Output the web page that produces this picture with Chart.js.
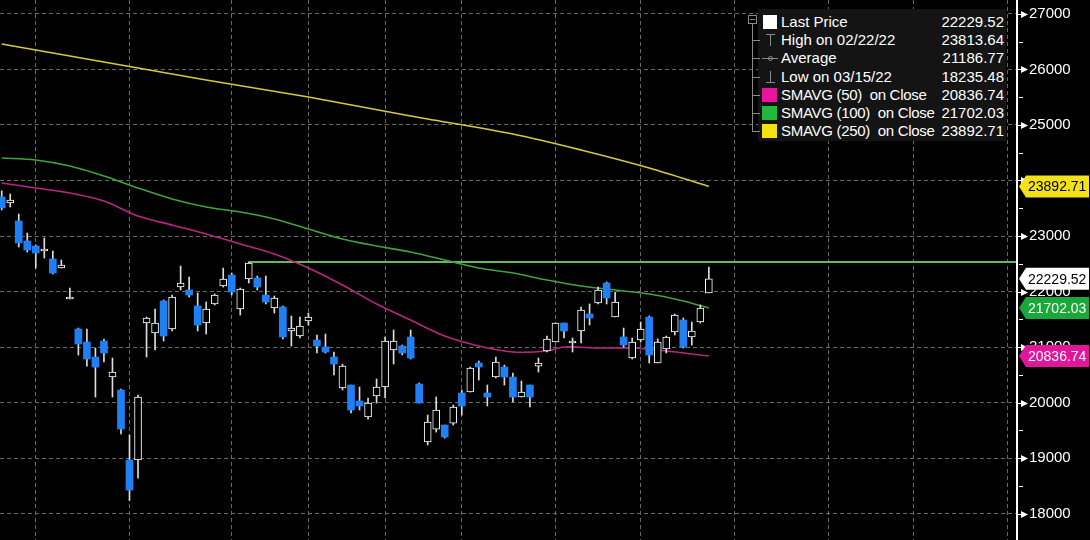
<!DOCTYPE html>
<html>
<head>
<meta charset="utf-8">
<title>HSI candles</title>
<script src="https://cdn.jsdelivr.net/npm/chart.js@4.4.0/dist/chart.umd.min.js"></script>
<style>
  html, body { margin: 0; padding: 0; background: #000; }
  #wrap { position: relative; width: 1090px; height: 540px; overflow: hidden; }
  #legend { position: absolute; left: 758px; top: 9px; width: 248px; height: 132px; background: #141414;
            font: 15px "Liberation Sans", Arial, sans-serif; color: #fff; }
  .row { position: absolute; left: 23px; right: 2px; height: 18px; line-height: 18px; white-space: pre; }
  .row.sm { letter-spacing: -0.3px; }
  .row .v { position: absolute; right: 0; top: 0; letter-spacing: 0; }
  #icons { position: absolute; left: 0; top: 0; pointer-events: none; }
</style>
</head>
<body>
<div id="wrap">
  <canvas id="chart" width="1090" height="540"></canvas>
  <div id="legend">
    <div class="row" style="top:4px">Last Price<span class="v">22229.52</span></div>
    <div class="row" style="top:22px">High on 02/22/22<span class="v">23813.64</span></div>
    <div class="row" style="top:40px">Average<span class="v">21186.77</span></div>
    <div class="row" style="top:59px">Low on 03/15/22<span class="v">18235.48</span></div>
    <div class="row sm" style="top:77px">SMAVG (50)  on Close<span class="v">20836.74</span></div>
    <div class="row sm" style="top:95px">SMAVG (100)  on Close<span class="v">21702.03</span></div>
    <div class="row sm" style="top:113px">SMAVG (250)  on Close<span class="v">23892.71</span></div>
  </div>
  <svg id="icons" width="1090" height="540">
    <g stroke="#8a8a8a" stroke-width="1" fill="none">
      <rect x="748.5" y="15.5" width="8" height="8"/>
      <line x1="750" y1="19.5" x2="755" y2="19.5"/>
      <line x1="752.5" y1="24" x2="752.5" y2="131"/>
      <line x1="752" y1="40.5" x2="760" y2="40.5"/>
      <line x1="752" y1="58.5" x2="760" y2="58.5"/>
      <line x1="752" y1="77.5" x2="760" y2="77.5"/>
      <line x1="752" y1="95.5" x2="760" y2="95.5"/>
      <line x1="752" y1="113.5" x2="760" y2="113.5"/>
      <line x1="752" y1="131.5" x2="760" y2="131.5"/>
      <line x1="766" y1="34.5" x2="775" y2="34.5"/>
      <line x1="770.5" y1="34" x2="770.5" y2="46"/>
      <line x1="762" y1="58.5" x2="778" y2="58.5"/>
      <circle cx="770.5" cy="58.5" r="2"/>
      <line x1="770.5" y1="71" x2="770.5" y2="82"/>
      <line x1="766" y1="82.5" x2="775" y2="82.5"/>
    </g>
    <rect x="763" y="15" width="14" height="14" fill="#fff"/>
    <rect x="762" y="88" width="15" height="14" fill="#e8149a"/>
    <rect x="762" y="106" width="15" height="14" fill="#22b83a"/>
    <rect x="762" y="124" width="15" height="14" fill="#f2e20f"/>
  </svg>
</div>
<script>
// daily bars, 02/22/22 .. 06/27/22 (index = trading day)
const opens = [23703, 23595, 23270, 22910, 22820, 22730, 22586, 22423, 21865, 21324,
  21090, 20820, 21108, 20459, 20225, 18964, 18964, 21432, 21252, 21829,
  21324, 22081, 22027, 21739, 21432, 21775, 22099, 22297, 21685, 22225,
  22243, 21937, 21703, 21721, 21288, 21198, 21468, 21126, 21000, 20820,
  20261, 20315, 20027, 19739, 20117, 20279, 20946, 21018, 21180, 20333,
  19288, 19522, 19594, 19630, 20171, 20189, 20712, 20171, 20459, 20639,
  20459, 20099, 20315, 20657, 20928, 21090, 21432, 21072, 21288, 21595,
  21793, 22153, 21540, 21180, 20802, 21126, 21540, 20712, 20964, 21270,
  21486, 21180, 21450, 21973];
const highs = [23814, 23757, 23396, 23054, 22838, 22964, 22730, 22568, 22063, 21342,
  21324, 20982, 21144, 20802, 20243, 19414, 20135, 21540, 21685, 21847,
  21937, 22459, 22261, 21973, 21811, 21955, 22423, 22333, 22063, 22531,
  22279, 22279, 21919, 21739, 21558, 21540, 21613, 21216, 21234, 20910,
  20693, 20315, 20279, 20081, 20423, 21180, 21306, 21036, 21306, 20351,
  19774, 20099, 19594, 19955, 20225, 20639, 20748, 20315, 20820, 20675,
  20531, 20387, 20315, 20802, 21198, 21432, 21432, 21162, 21721, 21775,
  22081, 22171, 21991, 21342, 21162, 21450, 21558, 21144, 21198, 21594,
  21522, 21450, 21757, 22441];
const lows = [23469, 23523, 22802, 22712, 22423, 22604, 22315, 22423, 21865, 20856,
  20657, 20099, 20730, 20099, 19432, 18235, 18639, 20820, 20946, 21108,
  21288, 22027, 21901, 21288, 21234, 21757, 22081, 21937, 21576, 22153,
  22027, 21775, 21612, 21144, 21018, 21162, 21396, 20892, 20892, 20495,
  20225, 19811, 19865, 19702, 19991, 20081, 20694, 20856, 20784, 19991,
  19234, 19468, 19360, 19594, 19774, 20189, 20405, 19937, 20441, 20315,
  20009, 20099, 19919, 20549, 20910, 21090, 21162, 20910, 21072, 21396,
  21775, 21775, 21540, 21000, 20784, 21090, 20712, 20712, 20892, 21216,
  20982, 21036, 21432, 21973];
const closes = [23505, 23649, 22874, 22748, 22694, 22766, 22333, 22477, 21901, 21054,
  20784, 20639, 20892, 20549, 19522, 18423, 20099, 21522, 21432, 21198,
  21901, 22153, 21937, 21396, 21685, 21937, 22225, 21991, 22045, 22513,
  22081, 21811, 21883, 21180, 21342, 21378, 21540, 21018, 20910, 20694,
  20657, 19865, 19937, 19991, 20279, 21108, 21108, 20892, 20802, 19991,
  19648, 19865, 19378, 19919, 19937, 20621, 20639, 20099, 20730, 20459,
  20099, 20189, 20099, 20712, 21144, 21432, 21288, 21090, 21667, 21522,
  22027, 21883, 21811, 21036, 21090, 21324, 20856, 21090, 21180, 21576,
  21000, 21288, 21703, 22229.52];

// moving averages at a few bar indices
const ma50Idx = [0, 4, 8, 12, 16, 20, 24, 28, 32, 36, 40, 44, 48, 52, 56, 60, 64, 66, 70, 74, 78, 83];
const ma50 = [23955, 23865, 23775, 23631, 23360, 23198, 23036, 22856, 22676, 22423, 22117,
  21775, 21486, 21198, 21018, 20910, 20928, 21000, 20982, 20982, 20928, 20836.74];
const ma100Idx = [0, 4, 8, 12, 16, 20, 24, 28, 32, 36, 40, 44, 48, 52, 56, 60, 64, 68, 72, 76, 80, 83];
const ma100 = [24406, 24370, 24261, 24081, 23865, 23667, 23523, 23432, 23306, 23126, 22946,
  22820, 22712, 22568, 22423, 22333, 22207, 22099, 22027, 21955, 21829, 21702.03];
const ma250Idx = [0, 12, 24, 36, 48, 60, 68, 76, 83];
const ma250 = [26460, 26135, 25811, 25505, 25162, 24838, 24550, 24225, 23892.71];

// horizontal line from the 04/04/22 high
const levelStart = 29;
const levelValue = 22531;

const yTicks = [18000, 19000, 20000, 21000, 22000, 23000, 24000, 25000, 26000, 27000];
const xGridIdx = [4, 15, 27, 36, 45, 54, 65, 75, 86, 97, 107, 118];

const tags = [
  { value: 23892.71, bg: '#f3e21b', fg: '#000' },
  { value: 22229.52, bg: '#ffffff', fg: '#000' },
  { value: 21702.03, bg: '#1aa83a', fg: '#fff' },
  { value: 20836.74, bg: '#e0179b', fg: '#fff' }
];

const BLUE = '#1f80f5';
const up = closes.map((c, i) => c >= opens[i]);

const xMin = -0.2, xMax = 119.05;

// a tick label sitting right under a tag is not shown
const hiddenByTag = v => tags.some(t => Math.abs(t.value - v) < 150);

const axisDecor = {
  id: 'axisDecor',
  afterDraw(chart) {
    const { ctx, chartArea, scales: { y } } = chart;
    const ax = chartArea.right + 1;
    ctx.save();
    ctx.strokeStyle = '#fff';
    ctx.lineWidth = 2;
    ctx.beginPath();
    ctx.moveTo(ax, 0);
    ctx.lineTo(ax, chart.height);
    ctx.stroke();
    ctx.lineWidth = 1;
    ctx.fillStyle = '#fff';
    for (let v = 18000; v <= 27000; v += 500) {
      const py = Math.round(y.getPixelForValue(v)) + 0.5;
      if (v % 1000 === 0) {
        ctx.beginPath();
        ctx.moveTo(ax, py); ctx.lineTo(ax + 5, py); ctx.stroke();
        ctx.beginPath();
        ctx.moveTo(ax + 4, py - 3.5); ctx.lineTo(ax + 11, py); ctx.lineTo(ax + 4, py + 3.5);
        ctx.closePath(); ctx.fill();
      } else {
        ctx.beginPath();
        ctx.moveTo(ax + 2, py); ctx.lineTo(ax + 6, py); ctx.stroke();
      }
    }
    // last-value tags over the axis
    ctx.font = '14px "Liberation Sans", Arial, sans-serif';
    ctx.textBaseline = 'middle';
    tags.forEach(t => {
      const py = y.getPixelForValue(t.value);
      ctx.fillStyle = t.bg;
      ctx.beginPath();
      ctx.moveTo(ax + 2, py);
      ctx.lineTo(ax + 9, py - 11);
      ctx.lineTo(1089, py - 11);
      ctx.lineTo(1089, py + 11);
      ctx.lineTo(ax + 9, py + 11);
      ctx.closePath();
      ctx.fill();
      ctx.fillStyle = t.fg;
      ctx.fillText(t.value.toFixed(2), ax + 11, py + 1);
    });
    ctx.restore();
  }
};

const pts = (idx, vals) => idx.map((i, k) => ({ x: i, y: vals[k] }));

new Chart(document.getElementById('chart'), {
  type: 'bar',
  data: {
    datasets: [
      {
        type: 'line', data: pts(ma250Idx, ma250), borderColor: '#d8c93c', borderWidth: 1.6,
        pointRadius: 0, tension: 0.3, order: 3
      },
      {
        type: 'line', data: pts(ma100Idx, ma100), borderColor: '#3fa342', borderWidth: 1.6,
        pointRadius: 0, tension: 0.3, order: 3
      },
      {
        type: 'line', data: pts(ma50Idx, ma50), borderColor: '#b82682', borderWidth: 1.6,
        pointRadius: 0, tension: 0.3, order: 3
      },
      {
        type: 'line', data: [{ x: levelStart, y: levelValue }, { x: xMax, y: levelValue }],
        borderColor: '#62bb5c', borderWidth: 2, pointRadius: 0, order: 3
      },
      {
        label: 'wicks',
        data: highs.map((h, i) => ({ x: i, y: [lows[i], h] })),
        backgroundColor: '#dcdcdc', barThickness: 1, grouped: false, order: 2
      },
      {
        label: 'bodies',
        data: opens.map((o, i) => ({ x: i, y: [o, closes[i]] })),
        backgroundColor: up.map(u => u ? '#000' : BLUE),
        borderColor: up.map(u => u ? '#fff' : BLUE),
        borderWidth: up.map(u => u ? 1 : 0),
        borderSkipped: false, barThickness: 7, minBarLength: 2, grouped: false, order: 1
      }
    ]
  },
  options: {
    responsive: false,
    animation: false,
    devicePixelRatio: 1,
    layout: { padding: 0, autoPadding: false },
    plugins: { legend: { display: false }, tooltip: { enabled: false } },
    scales: {
      x: {
        type: 'linear', min: xMin, max: xMax, offset: false,
        afterBuildTicks: s => { s.ticks = xGridIdx.map(v => ({ value: v })); },
        afterFit: s => { s.height = 0; s.paddingLeft = 0; s.paddingRight = 0; },
        ticks: { display: false },
        grid: { color: '#6a6a6a', lineWidth: 1, drawTicks: false, offset: false },
        border: { display: false, dash: [4, 3] }
      },
      y: {
        position: 'right', min: 17523, max: 27252,
        afterBuildTicks: s => { s.ticks = yTicks.map(v => ({ value: v })); },
        afterFit: s => { s.width = 74; s.paddingTop = 0; s.paddingBottom = 0; },
        ticks: {
          color: c => hiddenByTag(c.tick.value) ? 'rgba(0,0,0,0)' : '#fff',
          padding: 13,
          font: { family: '"Liberation Sans", Arial, sans-serif', size: 15 },
          callback: v => String(v)
        },
        grid: { color: '#6a6a6a', lineWidth: 1, drawTicks: false },
        border: { display: false, dash: [4, 3] }
      }
    }
  },
  plugins: [axisDecor]
});
</script>
</body>
</html>
